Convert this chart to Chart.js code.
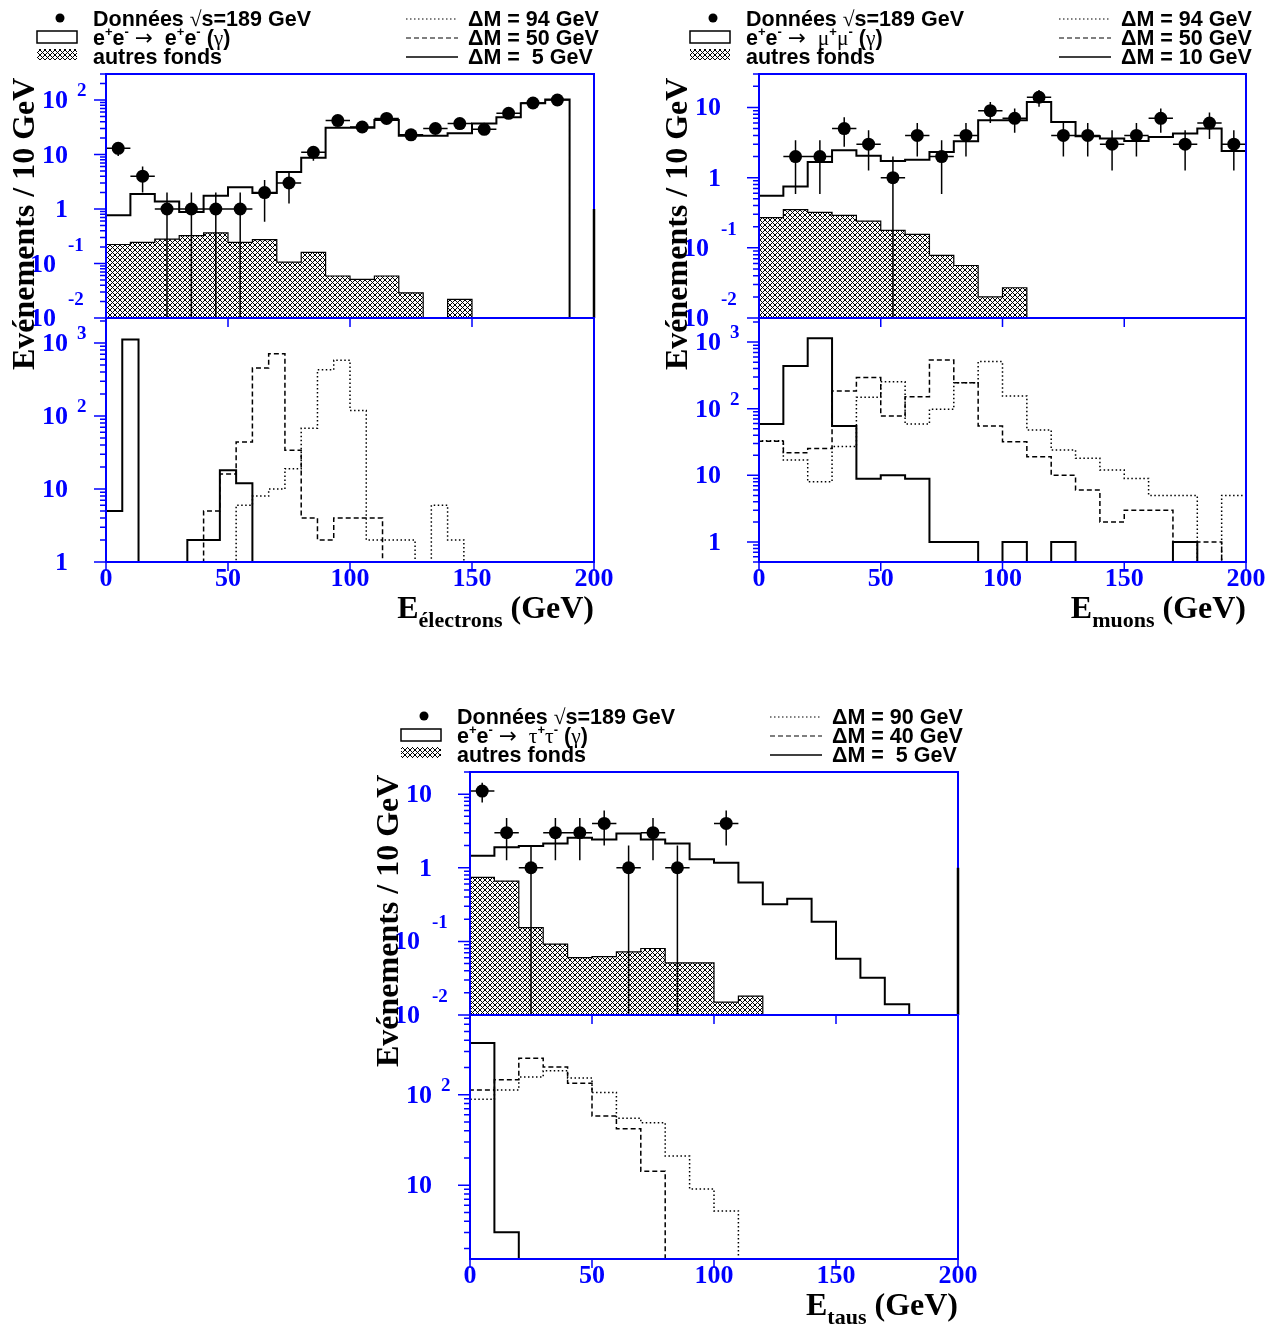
<!DOCTYPE html>
<html lang="fr">
<head>
<meta charset="utf-8">
<title>Spectres en énergie des leptons</title>
<script src="https://cdn.jsdelivr.net/npm/chart.js"></script>
<style>
  html, body { margin: 0; background: #fff; }
  #page { position: relative; width: 1277px; height: 1331px; overflow: hidden; background: #fff; }
  #page canvas { position: absolute; left: 0; top: 0; }
  .txt { position: absolute; white-space: pre; }
  .leg { font: bold 21.5px "Liberation Sans", Arial, sans-serif; line-height: 20px; color: #000; }
  .leg sup { font-size: 13px; line-height: 0; vertical-align: 0; position: relative; top: -9px; }
  .sym { font-family: "Liberation Serif", "Times New Roman", serif; font-weight: normal; }
  .arrow { font-family: "DejaVu Sans", sans-serif; font-weight: normal; }
  .tick { font: bold 26px "Liberation Serif", serif; line-height: 26px; color: #0000ff; }
  .xtick { font: bold 26px "Liberation Serif", serif; line-height: 26px; color: #0000ff; text-align: center; width: 100px; }
  .expo { font: bold 19px "Liberation Serif", serif; line-height: 19px; color: #0000ff; }
  .title { font: bold 32px "Liberation Serif", serif; line-height: 32px; color: #000; }
  .ytitle { transform-origin: 0 0; transform: rotate(-90deg); }
  .sub { font-size: 22px; position: relative; top: 9px; }
</style>
</head>
<body>
<div id="page">
  <canvas id="eUp" width="1277" height="1331"></canvas>
  <canvas id="eLow" width="1277" height="1331"></canvas>
  <canvas id="muUp" width="1277" height="1331"></canvas>
  <canvas id="muLow" width="1277" height="1331"></canvas>
  <canvas id="tauUp" width="1277" height="1331"></canvas>
  <canvas id="tauLow" width="1277" height="1331"></canvas>
</div>
<script>
// ---- valeurs ----
const xTicks = [0, 50, 100, 150, 200];

// électrons (bins de 10 GeV en haut, 200/30 GeV en bas)
const elecDataX = [5, 15, 25, 35, 45, 55, 65, 75, 85, 95, 105, 115, 125, 135, 145, 155, 165, 175, 185];
const elecData = [13, 4, 1, 1, 1, 1, 2, 3, 11, 42, 32, 46, 23, 30, 37, 29, 57, 88, 100];
const elecMC = [0.77, 1.88, 1.38, 0.88, 1.75, 2.5, 1.96, 4.75, 8.7, 31, 31, 43, 22, 22, 24.5, 37, 48, 87, 102, 0];
const elecOther = [0.223, 0.245, 0.28, 0.325, 0.364, 0.245, 0.275, 0.106, 0.16, 0.059, 0.051, 0.059, 0.029, 0, 0.022, 0, 0, 0, 0, 0];
const elecOverflow = 1;
const elecSig94 = [0, 0, 0, 0, 0, 0, 0, 0, 6, 8, 10, 19, 68, 430, 580, 119, 2, 2, 2, 0, 6, 2, 0, 0, 0, 0, 0, 0, 0, 0];
const elecSig50 = [0, 0, 0, 0, 0, 0, 5, 16, 44, 455, 710, 34, 4, 2, 4, 4, 4, 0, 0, 0, 0, 0, 0, 0, 0, 0, 0, 0, 0, 0];
const elecSig5 = [5, 1120, 0, 0, 0, 2, 2, 18, 12, 0, 0, 0, 0, 0, 0, 0, 0, 0, 0, 0, 0, 0, 0, 0, 0, 0, 0, 0, 0, 0];

// muons
const muDataX = [15, 25, 35, 45, 55, 65, 75, 85, 95, 105, 115, 125, 135, 145, 155, 165, 175, 185, 195];
const muData = [2, 2, 5, 3, 1, 4, 2, 4, 9, 7, 14, 4, 4, 3, 4, 7, 3, 6, 3];
const muMC = [0.55, 0.75, 1.67, 2.46, 2.06, 1.73, 1.8, 2.33, 3.3, 6.6, 6.6, 12, 6.2, 3.9, 3.6, 3.34, 3.8, 4.25, 5, 2.4];
const muOther = [0.27, 0.35, 0.32, 0.29, 0.24, 0.177, 0.155, 0.078, 0.056, 0.02, 0.027, 0, 0, 0, 0, 0, 0, 0, 0, 0];
const muSig94 = [33, 17, 8, 27, 148, 254, 59, 98, 246, 510, 155, 48, 24, 18, 12, 9, 5, 5, 0, 5];
const muSig50 = [32.6, 21.8, 25.3, 184, 293, 77.5, 151, 537, 246, 55, 32, 19, 10, 6, 2, 3, 3, 1, 1, 0];
const muSig10 = [59, 437, 1140, 55, 8.9, 10, 8.9, 1, 1, 0, 1, 0, 1, 0, 0, 0, 0, 1, 0, 0];

// taus
const tauDataX = [5, 15, 25, 35, 45, 55, 65, 75, 85, 105];
const tauData = [11, 3, 1, 3, 3, 4, 1, 3, 1, 4];
const tauMC = [1.46, 1.9, 1.97, 2.14, 2.55, 2.43, 2.92, 2.43, 2.14, 1.31, 1.17, 0.63, 0.32, 0.38, 0.185, 0.058, 0.032, 0.014, 0, 0];
const tauOther = [0.74, 0.66, 0.154, 0.092, 0.06, 0.062, 0.072, 0.08, 0.051, 0.051, 0.015, 0.018, 0, 0, 0, 0, 0, 0, 0, 0];
const tauOverflow = 1;
const tauSig90 = [89, 113, 157, 184, 153, 106, 55, 49, 21, 9.1, 5.2, 0, 0, 0, 0, 0, 0, 0, 0, 0];
const tauSig40 = [113, 146, 253, 202, 134, 58, 42, 14.3, 0, 0, 0, 0, 0, 0, 0, 0, 0, 0, 0, 0];
const tauSig5 = [372, 3.03, 0, 0, 0, 0, 0, 0, 0, 0, 0, 0, 0, 0, 0, 0, 0, 0, 0, 0];

// ---- mise en page ----
const W = 1277, H = 1331;
const BLUE = '#0000ff';
const page = document.getElementById('page');

const boxE = { left: 106, right: 594, top: 74, mid: 318, bottom: 562 };
const boxMu = { left: 759, right: 1246, top: 74, mid: 318, bottom: 562 };
const boxTau = { left: 470, right: 958, top: 772, mid: 1015, bottom: 1259 };

// hachures croisées "autres fonds"
function makeHatch() {
  const c = document.createElement('canvas');
  c.width = 5; c.height = 5;
  const g = c.getContext('2d');
  g.strokeStyle = '#000';
  g.lineWidth = 1;
  g.beginPath();
  g.moveTo(-1, -1); g.lineTo(6, 6);
  g.moveTo(6, -1); g.lineTo(-1, 6);
  g.stroke();
  return g.createPattern(c, 'repeat');
}
const hatch = makeHatch();

// histogramme -> points en escalier (les bins vides tombent sur le bas de l'axe)
function histo(values, width, yMin) {
  const pts = [{ x: 0, y: yMin }];
  values.forEach((v, i) => pts.push({ x: i * width, y: Math.max(v, yMin) }));
  pts.push({ x: values.length * width, y: Math.max(values[values.length - 1], yMin) });
  pts.push({ x: values.length * width, y: yMin });
  return pts;
}

function hist(values, width, yMin, style) {
  return Object.assign({
    data: histo(values, width, yMin),
    stepped: 'before',
    pointRadius: 0,
    borderColor: '#000',
    borderWidth: 2,
    borderCapStyle: 'butt',
    borderJoinStyle: 'miter',
    fill: false,
    order: 1
  }, style);
}

function upperSets(dataX, dataY, mc, other, yMin) {
  return [
    {
      data: dataX.map((x, i) => ({ x: x, y: dataY[i] })),
      showLine: false,
      pointRadius: 6.5,
      pointBackgroundColor: '#000',
      pointBorderWidth: 0,
      order: 0
    },
    hist(mc, 10, yMin, { borderWidth: 2 }),
    hist(other, 10, yMin, { borderWidth: 1.2, backgroundColor: hatch, fill: 'start', order: 2 })
  ];
}

function lowerSets(dotted, dashed, solid, width, yMin) {
  return [
    hist(dotted, width, yMin, { borderWidth: 1.5, borderDash: [1.5, 2.5] }),
    hist(dashed, width, yMin, { borderWidth: 1.5, borderDash: [5, 3] }),
    hist(solid, width, yMin, { borderWidth: 2 })
  ];
}

// cadre, graduations, barres d'erreur et symboles de légende
const frameCfg = {};
const rootFrame = {
  id: 'rootFrame',
  afterDatasetsDraw(chart) {
    const cfg = frameCfg[chart.canvas.id] || {};
    const ctx = chart.ctx, a = chart.chartArea, xs = chart.scales.x, ys = chart.scales.y;
    ctx.save();
    ctx.lineCap = 'butt';

    if (cfg.points) {
      const p = cfg.points;
      ctx.strokeStyle = '#000';
      ctx.lineWidth = 1.5;
      ctx.beginPath();
      p.x.forEach((x, i) => {
        const n = p.y[i], e = Math.sqrt(n);
        const px = xs.getPixelForValue(x), py = ys.getPixelForValue(n);
        const lo = n - e > ys.min ? ys.getPixelForValue(n - e) : a.bottom;
        ctx.moveTo(xs.getPixelForValue(x - p.half), py);
        ctx.lineTo(xs.getPixelForValue(x + p.half), py);
        ctx.moveTo(px, ys.getPixelForValue(n + e));
        ctx.lineTo(px, lo);
      });
      ctx.stroke();
    }

    ctx.strokeStyle = BLUE;
    ctx.lineWidth = 2;
    ctx.strokeRect(a.left, a.top, a.right - a.left, a.bottom - a.top);

    // graduations log à gauche
    ctx.lineWidth = 1.5;
    ctx.beginPath();
    const d0 = Math.floor(Math.log10(ys.min)), d1 = Math.ceil(Math.log10(ys.max));
    for (let d = d0; d <= d1; d++) {
      for (let m = 1; m <= 9; m++) {
        const v = m * Math.pow(10, d);
        if (v < ys.min * 0.999 || v > ys.max * 1.001) continue;
        const py = ys.getPixelForValue(v);
        ctx.moveTo(a.left, py);
        ctx.lineTo(a.left - (m === 1 ? 12 : 6), py);
      }
    }
    // graduations en x
    xTicks.forEach(v => {
      const px = xs.getPixelForValue(v);
      ctx.moveTo(px, a.bottom);
      ctx.lineTo(px, a.bottom + 9);
    });
    ctx.stroke();

    if (cfg.overflow) {
      ctx.strokeStyle = '#000';
      ctx.lineWidth = 2.5;
      ctx.beginPath();
      ctx.moveTo(a.right, ys.getPixelForValue(cfg.overflow));
      ctx.lineTo(a.right, a.bottom);
      ctx.stroke();
    }

    if (cfg.legend) {
      const L = a.left, T = a.top;
      ctx.fillStyle = '#000';
      ctx.beginPath();
      ctx.arc(L - 46, T - 56, 4.5, 0, 2 * Math.PI);
      ctx.fill();
      ctx.strokeStyle = '#000';
      ctx.lineWidth = 1.5;
      ctx.strokeRect(L - 69, T - 43, 40, 12);
      ctx.fillStyle = hatch;
      ctx.fillRect(L - 69, T - 25, 40, 11);
      [[1.5, 2.5], [5, 3], []].forEach((dash, k) => {
        ctx.setLineDash(dash);
        ctx.lineWidth = k === 2 ? 1.5 : 1.2;
        ctx.beginPath();
        ctx.moveTo(L + 300, T - 55 + 19 * k);
        ctx.lineTo(L + 352, T - 55 + 19 * k);
        ctx.stroke();
      });
      ctx.setLineDash([]);
    }
    ctx.restore();
  }
};

function makeChart(id, box, top, bottom, range, datasets, cfg) {
  frameCfg[id] = cfg;
  return new Chart(document.getElementById(id), {
    type: 'line',
    data: { datasets: datasets },
    options: {
      responsive: false,
      animation: false,
      events: [],
      layout: { padding: { left: box.left, right: W - box.right, top: top, bottom: H - bottom } },
      scales: {
        x: { type: 'linear', min: 0, max: 200, display: false },
        y: { type: 'logarithmic', min: range[0], max: range[1], display: false }
      },
      plugins: { legend: { display: false }, tooltip: { enabled: false } }
    },
    plugins: [rootFrame]
  });
}

// ---- textes HTML ----
function put(cls, html, left, top, rightAlign) {
  const d = document.createElement('div');
  d.className = 'txt ' + cls;
  d.innerHTML = html;
  d.style.left = left + 'px';
  d.style.top = top + 'px';
  if (rightAlign) d.style.transform = 'translateX(-100%)';
  page.appendChild(d);
  return d;
}

function axisLabels(chart, withX) {
  const a = chart.chartArea, ys = chart.scales.y, xs = chart.scales.x;
  const d0 = Math.ceil(Math.log10(ys.min) - 1e-9), d1 = Math.floor(Math.log10(ys.max) + 1e-9);
  for (let d = d0; d <= d1; d++) {
    const py = ys.getPixelForValue(Math.pow(10, d));
    if (d === 0 || d === 1) {
      put('tick', d === 0 ? '1' : '10', a.left - 38, py - 13, true);
    } else if (d > 1) {
      put('tick', '10', a.left - 38, py - 13, true);
      put('expo', String(d), a.left - 29, py - 20);
    } else {
      put('tick', '10', a.left - 50, py - 13, true);
      put('expo', String(d), a.left - 38, py - 29);
    }
  }
  if (withX) {
    xTicks.forEach(v => put('xtick', String(v), xs.getPixelForValue(v) - 50, a.bottom + 3));
  }
}

function panelTexts(box, process, masses, particle) {
  const rows = [box.top - 65, box.top - 46, box.top - 27];
  put('leg', 'Données <span class="sym">√</span>s=189 GeV', box.left - 13, rows[0]);
  put('leg', 'e<sup>+</sup>e<sup>-</sup> <span class="arrow">→</span>  ' + process + ' (<span class="sym">γ</span>)', box.left - 13, rows[1]);
  put('leg', 'autres fonds', box.left - 13, rows[2]);
  masses.forEach((m, k) => put('leg', 'ΔM = ' + m + ' GeV', box.left + 362, rows[k]));
  put('title ytitle', 'Evénements / 10 GeV', box.left - 99, box.bottom - 192);
  put('title', 'E<span class="sub">' + particle + '</span> (GeV)', box.right, box.bottom + 29, true);
}

// ---- graphiques ----
const eUp = makeChart('eUp', boxE, boxE.top, boxE.mid, [0.01, 300],
  upperSets(elecDataX, elecData, elecMC, elecOther, 0.01),
  { points: { x: elecDataX, y: elecData, half: 5 }, overflow: elecOverflow, legend: true });
const eLow = makeChart('eLow', boxE, boxE.mid, boxE.bottom, [1, 2200],
  lowerSets(elecSig94, elecSig50, elecSig5, 200 / 30, 1), {});

const muUp = makeChart('muUp', boxMu, boxMu.top, boxMu.mid, [0.01, 30],
  upperSets(muDataX, muData, muMC, muOther, 0.01),
  { points: { x: muDataX, y: muData, half: 5 }, legend: true });
const muLow = makeChart('muLow', boxMu, boxMu.mid, boxMu.bottom, [0.5, 2300],
  lowerSets(muSig94, muSig50, muSig10, 10, 0.5), {});

const tauUp = makeChart('tauUp', boxTau, boxTau.top, boxTau.mid, [0.01, 20],
  upperSets(tauDataX, tauData, tauMC, tauOther, 0.01),
  { points: { x: tauDataX, y: tauData, half: 5 }, overflow: tauOverflow, legend: true });
const tauLow = makeChart('tauLow', boxTau, boxTau.mid, boxTau.bottom, [1.53, 760],
  lowerSets(tauSig90, tauSig40, tauSig5, 10, 1.53), {});

[eUp, muUp, tauUp].forEach(c => axisLabels(c, false));
[eLow, muLow, tauLow].forEach(c => axisLabels(c, true));

panelTexts(boxE, 'e<sup>+</sup>e<sup>-</sup>', ['94', '50', ' 5'], 'électrons');
panelTexts(boxMu, '<span class="sym">μ</span><sup>+</sup><span class="sym">μ</span><sup>-</sup>', ['94', '50', '10'], 'muons');
panelTexts(boxTau, '<span class="sym">τ</span><sup>+</sup><span class="sym">τ</span><sup>-</sup>', ['90', '40', ' 5'], 'taus');
</script>
</body>
</html>
